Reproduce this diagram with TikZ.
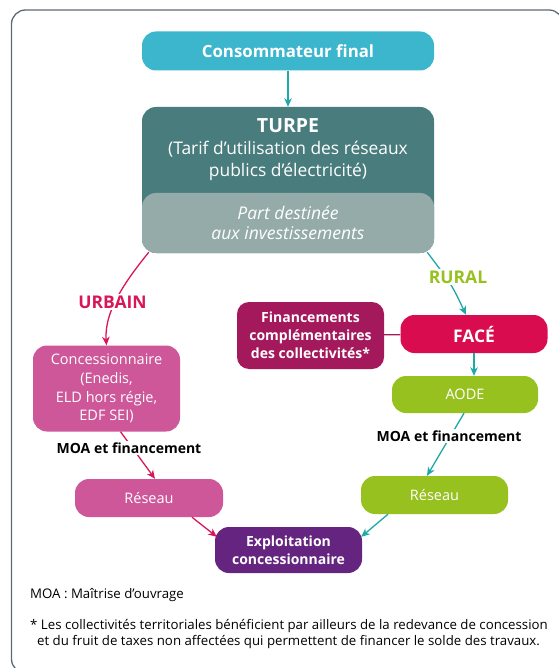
\documentclass[tikz,border=0pt]{standalone}
\usepackage{fontspec}
\setmainfont{Open Sans}
\usetikzlibrary{arrows.meta,positioning}
\definecolor{cyanC}{HTML}{3BB6CC}
\definecolor{turpeC}{HTML}{487C7D}
\definecolor{partC}{HTML}{94ABA9}
\definecolor{urbainC}{HTML}{D8175A}
\definecolor{ruralC}{HTML}{97C11F}
\definecolor{arrowC}{HTML}{1FA8A6}
\definecolor{roseC}{HTML}{CE579A}
\definecolor{faceC}{HTML}{D90C50}
\definecolor{finC}{HTML}{A3195B}
\definecolor{explC}{HTML}{65247F}
\definecolor{frameC}{HTML}{5F6975}

\begin{document}
\begin{tikzpicture}[
x=1pt,y=-1pt,
>={Stealth[length=8.5pt,width=7.5pt,inset=2.5pt]},
box/.style={
	rounded corners=14pt,
	text=white,
	align=center,
	inner sep=0pt,
	minimum width=147pt,
	minimum height=38pt,
	font=\fontsize{14.5}{18.7}\selectfont
},
title/.style={
	font=\bfseries\fontsize{14}{18}\selectfont
},
flow/.style={
	->,
	line width=1.3pt
},
tag/.style={
	fill=white,
	inner sep=2pt,
	font=\bfseries\fontsize{17.5}{18}\selectfont
},
moa/.style={
	fill=white,
	inner sep=2pt,
	font=\bfseries\fontsize{14}{16}\selectfont
},
note/.style={
	anchor=west,
	align=left,
	inner sep=0pt,
	font=\fontsize{13.25}{16.5}\selectfont
}
]
\useasboundingbox (0,0) rectangle (558,668);
\draw[frameC,line width=1.3pt,rounded corners=14pt] (11.5,10) rectangle (563,673);

\node[box,fill=cyanC,font=\bfseries\fontsize{16.8}{20}\selectfont,minimum width=292pt,minimum height=39pt] (conso) at (288,51) {Consommateur final};
\node[box,fill=turpeC,minimum width=292pt,minimum height=146pt] (turpe) at (288,180) {};
\node[box,fill=partC,minimum width=292pt,minimum height=60pt,font=\itshape\fontsize{17.5}{20}\selectfont] (part) at (288,223) {Part destinée\\aux investissements};
\node[text=white,align=center,font=\fontsize{17.4}{22}\selectfont] (turpetxt) at (288,150) {{\bfseries\fontsize{19.5}{22}\selectfont TURPE}\\(Tarif d’utilisation des réseaux\\publics d’électricité)};

\node[box,fill=roseC,minimum height=86pt] (conc) at (106.5,388.5) {Concessionnaire\\(Enedis,\\ELD hors régie,\\EDF SEI)};
\node[box,fill=finC,title,minimum height=67pt,rounded corners=12pt] (fin) at (310.5,335.5) {Financements\\complémentaires\\des collectivités*};
\node[box,fill=faceC,font=\bfseries\fontsize{17.4}{20}\selectfont] (face) at (474,334) {FACÉ};
\node[box,fill=ruralC,minimum width=146pt,minimum height=37pt] (aode) at (465,394.5) {AODE};
\node[box,fill=roseC,minimum width=148pt] (resL) at (149,498) {Réseau};
\node[box,fill=ruralC] (resR) at (434.5,495) {Réseau};
\node[box,fill=explC,title,minimum height=46pt] (expl) at (288.5,550) {Exploitation\\concessionnaire};

\draw[flow,arrowC] (conso) -- (turpe);
\draw[flow,urbainC] ([xshift=7pt,yshift=1pt]part.south west) .. controls (128,278) and (104,310) .. (conc.north);
\draw[flow,arrowC] ([xshift=-7pt,yshift=1pt]part.south east) .. controls (452,285) .. ([xshift=-8pt]face.north);
\draw[finC,line width=1.3pt] (fin) -- (face);
\draw[flow,arrowC] (face.south) -- (face.south |- aode.north);
\draw[flow,urbainC] ([xshift=14pt]conc.south) -- ([xshift=6pt]resL.north);
\draw[flow,arrowC] ([xshift=-1pt]aode.south) -- ([xshift=-7.5pt]resR.north);
\draw[flow,urbainC] ([xshift=43pt]resL.south) -- ([xshift=2pt,yshift=-10pt]expl.north west);
\draw[flow,arrowC] ([xshift=-46.5pt]resR.south) -- ([xshift=-1pt,yshift=-10pt]expl.north east);

\node[tag,text=urbainC] (urbain) at (112.5,302) {URBAIN};
\node[tag,text=ruralC] (rural) at (458,277) {RURAL};
\node[moa] (moaL) at (129,448) {MOA et financement};
\node[moa] (moaR) at (449,436) {MOA et financement};

\node[note] (abbr) at (30,595) {MOA : Maîtrise d’ouvrage};
\node[note,anchor=north west] (foot) at (30,619) {* Les collectivités territoriales bénéficient par ailleurs de la redevance de concession\\\hspace*{7pt}et du fruit de taxes non affectées qui permettent de financer le solde des travaux.};

\end{tikzpicture}
\end{document}
